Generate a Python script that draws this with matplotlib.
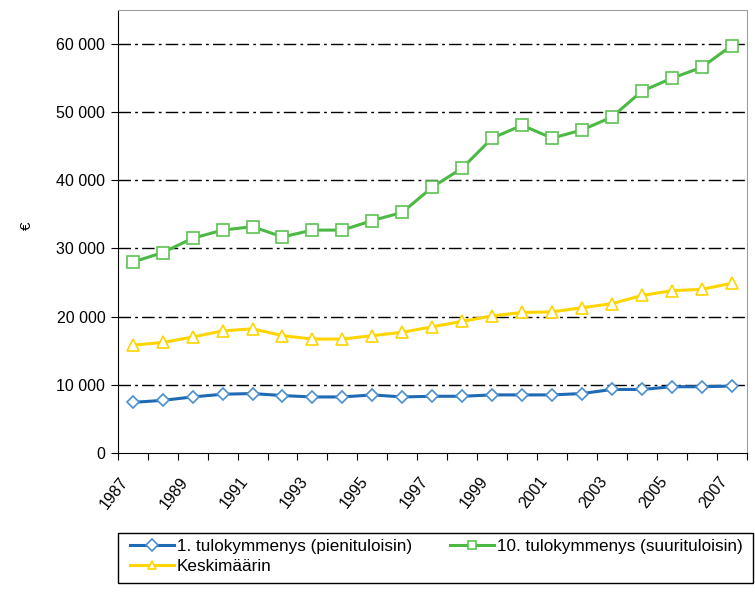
import matplotlib
matplotlib.use("Agg")
import matplotlib.pyplot as plt
from matplotlib.patches import Rectangle
from matplotlib.ticker import FuncFormatter, FixedLocator

plt.rcParams["font.family"] = ["Liberation Sans", "DejaVu Sans"]

years = list(range(1987, 2008))
low_decile = [7400, 7700, 8200, 8600, 8700, 8400, 8200, 8200, 8500, 8200, 8300,
              8300, 8500, 8500, 8500, 8700, 9300, 9300, 9700, 9700, 9800]
top_decile = [28000, 29400, 31500, 32700, 33200, 31700, 32700, 32700, 34100, 35300, 39000,
              41800, 46200, 48100, 46200, 47400, 49300, 53100, 55000, 56600, 59800]
average = [15800, 16200, 17000, 17900, 18200, 17200, 16700, 16700, 17200, 17700, 18500,
           19300, 20100, 20600, 20700, 21300, 21900, 23100, 23800, 24000, 24900]
labels = ["1. tulokymmenys (pienituloisin)", "10. tulokymmenys (suurituloisin)", "Keskimäärin"]

fig = plt.figure(figsize=(7.55, 5.95), dpi=100)
ax = fig.add_axes([0.156, 0.239, 0.833, 0.744])

x = list(range(len(years)))
l1, = ax.plot(x, low_decile, color="#1f6ab4", lw=2.2, marker="D", ms=6.5,
              mfc="white", mec="#4a8fd0", mew=1.2, label=labels[0])
l2, = ax.plot(x, top_decile, color="#4cb944", lw=2.2, marker="s", ms=8,
              mfc="white", mec="#5cc452", mew=1.2, label=labels[1])
l3, = ax.plot(x, average, color="#ffd500", lw=2.2, marker="^", ms=9,
              mfc="white", mec="#ffd500", mew=1.2, label=labels[2])

ax.set_xlim(-0.5, len(years) - 0.5)
ax.set_ylim(0, 65000)
ax.set_yticks(range(0, 60001, 10000))
ax.yaxis.set_major_formatter(FuncFormatter(lambda v, p: f"{int(v):,}".replace(",", " ")))
ax.tick_params(axis="y", labelsize=11.5, length=5, direction="out", pad=4)

# ticks between categories, labels every second year
ax.xaxis.set_major_locator(FixedLocator([i - 0.5 for i in range(len(years) + 1)]))
ax.set_xticklabels([])
ax.tick_params(axis="x", length=5, direction="out")
for i, yr in enumerate(years):
    if i % 2 == 0:
        ax.text(i - 0.45, -0.048, str(yr), transform=ax.get_xaxis_transform(),
                rotation=52, ha="right", va="top", rotation_mode="anchor", fontsize=11.5)

for v in range(10000, 60001, 10000):
    ax.axhline(v, color="black", lw=1, dashes=(9, 3, 2, 3), zorder=0)

for s in ["top", "right"]:
    ax.spines[s].set_color("#a0a0a0")
for s in ["left", "bottom"]:
    ax.spines[s].set_color("black")

fig.text(0.035, 0.62, "€", rotation=90, fontsize=11, ha="center", va="center")

# legend frame spanning the plot width
fig.patches.append(Rectangle((0.156, 0.020), 0.841, 0.084, transform=fig.transFigure,
                             fill=False, edgecolor="black", lw=1.0))
leg = fig.legend(handles=[l1, l3, l2], loc="upper left", ncol=2,
                 bbox_to_anchor=(0.172, 0.094), frameon=False,
                 fontsize=12.3, handlelength=2.6, handletextpad=0.15, borderaxespad=0,
                 labelspacing=0.3, borderpad=0, columnspacing=2.2)
for h in leg.legend_handles:
    h.set_markersize(6)

fig.savefig("out.png", dpi=100)
